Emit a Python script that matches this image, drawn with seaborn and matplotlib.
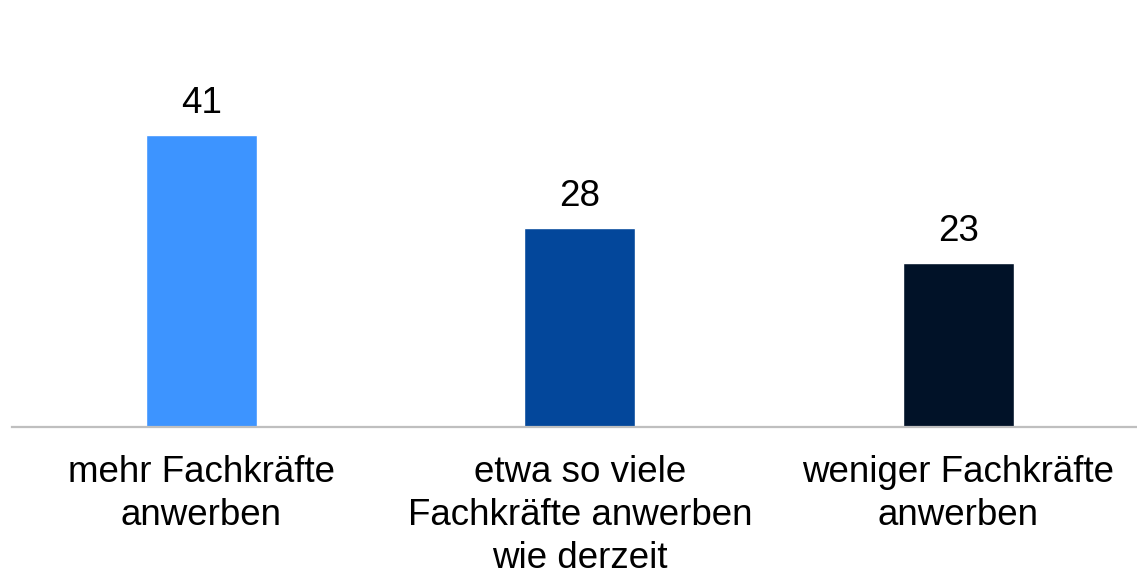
import pandas as pd
import seaborn as sns
import matplotlib.pyplot as plt

# Chart data
categories = ['mehr Fachkräfte\nanwerben',
              'etwa so viele\nFachkräfte anwerben\nwie derzeit',
              'weniger Fachkräfte\nanwerben']
values = [41, 28, 23]
bar_colors = ['#3d94ff', '#03479b', '#011228']

df = pd.DataFrame({'category': categories, 'value': values})

sns.set_style('white')
plt.rcParams['font.family'] = ['Liberation Sans', 'DejaVu Sans']

fig = plt.figure(figsize=(11.37, 5.74), dpi=100)
ax = fig.add_axes([0.0106, 0.256, 0.9987, 0.737])

sns.barplot(data=df, x='category', y='value', hue='category',
            palette=bar_colors, saturation=1, width=0.293, legend=False, ax=ax)

for c in ax.containers:
    ax.bar_label(c, fmt='%d', fontsize=26.5, padding=10, color='black')

ax.set_xlim(-0.5, 2.5)
ax.set_ylim(0, 59.4)
ax.set_xlabel('')
ax.set_ylabel('')
ax.set_yticks([])
ax.tick_params(axis='x', length=0, pad=20, labelsize=26.5, labelcolor='black')
for lbl in ax.get_xticklabels():
    lbl.set_linespacing(1.3)

for side in ['top', 'right', 'left']:
    ax.spines[side].set_visible(False)
ax.spines['bottom'].set_color('#bfbfbf')
ax.spines['bottom'].set_linewidth(1.6)

fig.savefig('out.png', dpi=100)
